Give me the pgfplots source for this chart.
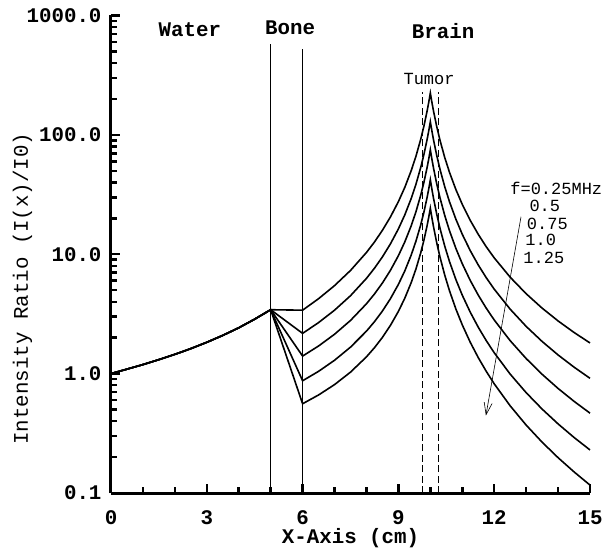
\documentclass[border=0pt]{standalone}
\usepackage{fontspec}
\setmainfont{Liberation Mono}
\usepackage{pgfplots}
\pgfplotsset{compat=1.18}
\usetikzlibrary{arrows.meta}

\newcommand{\bigf}{\fontsize{20.8bp}{24bp}\selectfont}
\newcommand{\smallf}{\fontsize{17bp}{20bp}\selectfont}

\begin{document}
\begin{tikzpicture}
\path[use as bounding box] (-111bp,-56bp) rectangle (502bp,493bp);
\begin{axis}[
  scale only axis, width=479bp, height=477.5bp,
  xmin=0, xmax=15, ymin=0.1, ymax=1000, ymode=log,
  axis x line*=bottom, axis y line*=left,
  axis line style={line width=3bp, -},
  xtick={0,3,6,9,12,15}, xticklabels={0,3,6,9,12,15},
  minor xtick={1,2,4,5,7,8,10,11,13,14},
  ytick={0.1,1,10,100,1000}, yticklabels={0.1,1.0,10.0,100.0,1000.0},
  tick align=inside,
  major tick length=9bp, minor tick length=6bp,
  every tick/.style={black, line width=2.5bp},
  tick label style={font=\bfseries\bigf},
  xticklabel style={yshift=-14bp},
  yticklabel style={anchor=east, xshift=-6bp},
  every axis x label/.style={at={(axis description cs:0.5,0)}, yshift=-45bp, anchor=center},
  every axis y label/.style={at={(axis description cs:0,0.428)}, xshift=-88.5bp, rotate=90, anchor=center},
  xlabel={\textbf{X-Axis (cm)}},
  ylabel={Intensity Ratio (I(x)/I0)},
  label style={font=\bigf},
  clip=false,
  every axis plot/.append style={black, mark=none},
]
% vertical boundaries
\addplot[line width=0.7bp] coordinates {(5,0.1)(5,577)};
\addplot[line width=0.7bp] coordinates {(6,0.1)(6,525)};
\addplot[line width=0.7bp, dash pattern=on 7bp off 3.5bp] coordinates {(9.75,0.1)(9.75,230)};
\addplot[line width=0.7bp, dash pattern=on 7bp off 3.5bp] coordinates {(10.25,0.1)(10.25,230)};

% f = 0.25 MHz
\addplot[line width=1.6bp] coordinates {
(0,1)(0.5,1.09)(1,1.19)(1.5,1.31)(2,1.45)(2.5,1.62)(3,1.83)(3.5,2.09)(4,2.42)(4.5,2.86)(5,3.43)
(6,3.40)(6.5,4.243)(7,5.460)(7.5,7.315)(8,10.35)(8.25,12.66)(8.5,15.88)(8.75,20.52)(9,27.59)(9.2,36.32)(9.4,50.05)(9.55,66.29)(9.7,92.06)(9.8,118.7)(9.9,158.9)(9.95,187.3)(10,224)
(10.05,186.8)(10.1,158.1)(10.2,117.5)(10.3,90.64)(10.45,64.76)(10.6,48.52)(10.8,34.84)(11,26.19)(11.25,19.22)(11.5,14.69)(11.75,11.56)(12,9.331)(12.5,6.423)(13,4.671)(13.5,3.537)(14,2.763)(14.5,2.212)(15,1.807)
};
% f = 0.5 MHz
\addplot[line width=1.6bp] coordinates {
(0,1)(0.5,1.09)(1,1.19)(1.5,1.31)(2,1.45)(2.5,1.62)(3,1.83)(3.5,2.09)(4,2.42)(4.5,2.86)(5,3.43)
(6,2.174)(6.5,2.676)(7,3.399)(7.5,4.495)(8,6.281)(8.25,7.635)(8.5,9.506)(8.75,12.21)(9,16.31)(9.2,21.36)(9.4,29.28)(9.55,38.62)(9.7,53.44)(9.8,68.71)(9.9,91.76)(9.95,108.0)(10,129)
(10.05,107.4)(10.1,90.82)(10.2,67.30)(10.3,51.79)(10.45,36.86)(10.6,27.51)(10.8,19.66)(11,14.70)(11.25,10.72)(11.5,8.134)(11.75,6.365)(12,5.102)(12.5,3.466)(13,2.488)(13.5,1.860)(14,1.434)(14.5,1.133)(15,0.9137)
};
% f = 0.75 MHz
\addplot[line width=1.6bp] coordinates {
(0,1)(0.5,1.09)(1,1.19)(1.5,1.31)(2,1.45)(2.5,1.62)(3,1.83)(3.5,2.09)(4,2.42)(4.5,2.86)(5,3.43)
(6,1.403)(6.5,1.704)(7,2.137)(7.5,2.789)(8,3.847)(8.25,4.646)(8.5,5.746)(8.75,7.331)(9,9.730)(9.2,12.68)(9.4,17.29)(9.55,22.72)(9.7,31.32)(9.8,40.15)(9.9,53.49)(9.95,62.87)(10,75)
(10.05,62.39)(10.1,52.67)(10.2,38.92)(10.3,29.88)(10.45,21.18)(10.6,15.75)(10.8,11.19)(11,8.325)(11.25,6.032)(11.5,4.548)(11.75,3.536)(12,2.816)(12.5,1.888)(13,1.338)(13.5,0.9872)(14,0.7515)(14.5,0.5862)(15,0.4665)
};
% f = 1.0 MHz
\addplot[line width=1.6bp] coordinates {
(0,1)(0.5,1.09)(1,1.19)(1.5,1.31)(2,1.45)(2.5,1.62)(3,1.83)(3.5,2.09)(4,2.42)(4.5,2.86)(5,3.43)
(6,0.8715)(6.5,1.045)(7,1.294)(7.5,1.667)(8,2.269)(8.25,2.723)(8.5,3.346)(8.75,4.241)(9,5.592)(9.2,7.249)(9.4,9.835)(9.55,12.88)(9.7,17.67)(9.8,22.60)(9.9,30.03)(9.95,35.25)(10,42)
(10.05,34.89)(10.1,29.41)(10.2,21.68)(10.3,16.60)(10.45,11.73)(10.6,8.681)(10.8,6.138)(11,4.542)(11.25,3.270)(11.5,2.450)(11.75,1.892)(12,1.497)(12.5,0.9909)(13,0.6931)(13.5,0.5048)(14,0.3793)(14.5,0.2920)(15,0.2294)
};
% f = 1.25 MHz
\addplot[line width=1.6bp] coordinates {
(0,1)(0.5,1.09)(1,1.19)(1.5,1.31)(2,1.45)(2.5,1.62)(3,1.83)(3.5,2.09)(4,2.42)(4.5,2.86)(5,3.43)
(6,0.5594)(6.5,0.6625)(7,0.8091)(7.5,1.029)(8,1.382)(8.25,1.648)(8.5,2.013)(8.75,2.534)(9,3.321)(9.2,4.282)(9.4,5.780)(9.55,7.536)(9.7,10.30)(9.8,13.15)(9.9,17.43)(9.95,20.42)(10,24.3)
(10.05,20.16)(10.1,16.98)(10.2,12.48)(10.3,9.531)(10.45,6.704)(10.6,4.945)(10.8,3.478)(11,2.561)(11.25,1.831)(11.5,1.363)(11.75,1.046)(12,0.8220)(12.5,0.5373)(13,0.3709)(13.5,0.2666)(14,0.1977)(14.5,0.1503)(15,0.1165)
};

% arrow
\addplot[line width=0.6bp, -{Straight Barb[length=12bp,width=8bp]}] coordinates {(12.84,20.6)(11.74,0.445)};

% region labels
\node[font=\bfseries\bigf] at (axis cs:2.47,764) {Water};
\node[font=\bfseries\bigf] at (axis cs:5.61,794) {Bone};
\node[font=\bfseries\bigf] at (axis cs:10.4,742) {Brain};
\node[font=\smallf] at (axis cs:9.96,294) {Tumor};

% frequency labels
\node[font=\smallf, anchor=west, inner sep=0pt] at (axis cs:12.5,35.7) {f=0.25MHz};
\node[font=\smallf, anchor=west, inner sep=0pt] at (axis cs:13.10,25.3) {0.5};
\node[font=\smallf, anchor=west, inner sep=0pt] at (axis cs:13.02,18.07) {0.75};
\node[font=\smallf, anchor=west, inner sep=0pt] at (axis cs:12.97,13.17) {1.0};
\node[font=\smallf, anchor=west, inner sep=0pt] at (axis cs:12.91,9.26) {1.25};
\end{axis}
\end{tikzpicture}
\end{document}
